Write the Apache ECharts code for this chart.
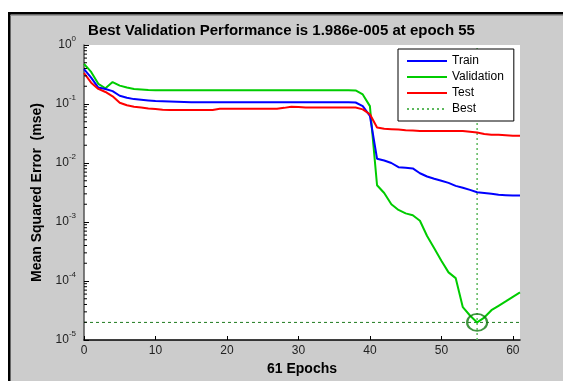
<!DOCTYPE html>
<html>
<head>
<meta charset="utf-8">
<script src="https://cdn.jsdelivr.net/npm/echarts@6/dist/echarts.min.js"></script>
<style>
html,body{margin:0;padding:0;background:#fff;overflow:hidden;}
#chart{width:563px;height:381px;}
</style>
</head>
<body>
<div id="chart"></div>
<script>
var epochs = [0,1,2,3,4,5,6,7,8,9,10,11,12,13,14,15,16,17,18,19,20,21,22,23,24,25,26,27,28,29,30,31,32,33,34,35,36,37,38,39,40,41,42,43,44,45,46,47,48,49,50,51,52,53,54,55,56,57,58,59,60,61];
var trainPerf = [0.39,0.28,0.19,0.18,0.165,0.138,0.128,0.121,0.118,0.115,0.112,0.111,0.110,0.109,0.108,0.107,0.107,0.107,0.107,0.107,0.107,0.107,0.107,0.107,0.107,0.107,0.107,0.107,0.107,0.107,0.107,0.107,0.107,0.107,0.107,0.107,0.107,0.107,0.106,0.092,0.063,0.0118,0.011,0.0100,0.0085,0.0083,0.0081,0.0067,0.0059,0.0054,0.0050,0.0046,0.0041,0.0038,0.0035,0.0032,0.0031,0.0030,0.0029,0.00285,0.0028,0.0028];
var valPerf = [0.48,0.35,0.22,0.185,0.235,0.205,0.19,0.18,0.176,0.172,0.171,0.171,0.171,0.171,0.171,0.171,0.171,0.171,0.171,0.171,0.171,0.171,0.171,0.171,0.171,0.171,0.171,0.171,0.171,0.171,0.171,0.171,0.171,0.171,0.171,0.171,0.171,0.171,0.170,0.145,0.092,0.0042,0.0031,0.0020,0.0016,0.0014,0.0013,0.00105,0.00058,0.00036,0.00022,0.00014,0.000112,0.000036,0.000026,0.00001986,0.000024,0.000032,0.000038,0.000045,0.000054,0.000064];
var testPerf = [0.335,0.23,0.18,0.16,0.135,0.105,0.095,0.09,0.087,0.084,0.082,0.08,0.079,0.079,0.079,0.079,0.079,0.079,0.079,0.083,0.083,0.083,0.083,0.083,0.083,0.083,0.083,0.083,0.086,0.09,0.089,0.087,0.087,0.087,0.087,0.087,0.087,0.087,0.087,0.081,0.067,0.040,0.038,0.0375,0.037,0.036,0.0355,0.035,0.035,0.035,0.035,0.035,0.035,0.035,0.034,0.033,0.031,0.030,0.030,0.0295,0.029,0.029];
var bestEpoch = 55;
var bestPerf = 1.986e-5;
var xTicks = [0,10,20,30,40,50,60];
var yMin = 1e-5, yMax = 1, xMax = 61;
var minorMult = [2,3,4,5,6,7,8,9];
var decades = [1e-5,1e-4,1e-3,1e-2,1e-1];

function zip(xs, ys){ return xs.map(function(x,i){ return [x, ys[i]]; }); }
var minorVals = [];
decades.forEach(function(d){ minorMult.forEach(function(m){ minorVals.push([0, d*m]); }); });

var chart = echarts.init(document.getElementById('chart'));
var font = '"Liberation Sans", Arial, sans-serif';
chart.setOption({
  backgroundColor: '#ffffff',
  animation: false,
  textStyle: {fontFamily: font},
  graphic: [
    {type: 'rect', z: -100, silent: true, shape: {x: 9, y: 13, width: 554, height: 368}, style: {fill: '#cccccc'}},
    {type: 'rect', z: -99, silent: true, shape: {x: 8, y: 12, width: 2.5, height: 369}, style: {fill: '#000'}},
    {type: 'rect', z: -99, silent: true, shape: {x: 8, y: 12, width: 555, height: 2.5}, style: {fill: '#000'}},
    {type: 'rect', z: -99, silent: true, shape: {x: 10.5, y: 15, width: 552.5, height: 1}, style: {fill: '#9a9a9a'}},
    {type: 'rect', z: 1000, silent: true, shape: {x: 545, y: 16, width: 18, height: 365}, style: {fill: '#cccccc'}}
  ],
  title: {
    text: 'Best Validation Performance is 1.986e-005 at epoch 55',
    left: 'center', top: 18,
    textStyle: {fontFamily: font, fontSize: 15, fontWeight: 'bold', color: '#000'}
  },
  grid: {left: 84, top: 45, right: 43, bottom: 36, show: true, backgroundColor: '#fff', borderWidth: 0},
  legend: {
    orient: 'vertical', left: 398, top: 49,
    padding: [6, 10, 6, 8], itemGap: 4, itemWidth: 40, itemHeight: 13,
    backgroundColor: '#fff', borderColor: '#000', borderWidth: 1, borderRadius: 0,
    itemStyle: {opacity: 0, borderWidth: 0},
    textStyle: {fontFamily: font, fontSize: 12, color: '#000'},
    data: ['Train', 'Validation', 'Test', 'Best']
  },
  xAxis: {
    type: 'value', min: 0, max: xMax,
    name: '61 Epochs', nameLocation: 'middle', nameGap: 22,
    nameTextStyle: {fontFamily: font, fontSize: 14, fontWeight: 'bold', color: '#000'},
    axisLine: {show: true, lineStyle: {color: '#000', width: 1.5}},
    axisTick: {show: true, inside: true, length: 4, customValues: xTicks, lineStyle: {color: '#000'}},
    axisLabel: {customValues: xTicks, fontSize: 12, color: '#222', margin: 5, fontFamily: font},
    splitLine: {show: false}
  },
  yAxis: {
    type: 'log', logBase: 10, min: yMin, max: yMax,
    name: 'Mean Squared Error  (mse)', nameLocation: 'middle', nameGap: 29,
    nameTextStyle: {fontFamily: font, fontSize: 14, fontWeight: 'bold', color: '#000'},
    axisLine: {show: true, lineStyle: {color: '#555', width: 1.5}},
    axisTick: {show: true, inside: true, length: 5, lineStyle: {color: '#000'}},
    axisLabel: {
      margin: 8, color: '#222',
      formatter: function(v){ var e = Math.round(Math.log(v)/Math.LN10); return '{b|10}{s|' + e + '}'; },
      rich: {
        b: {fontSize: 12, fontFamily: font, color: '#222'},
        s: {fontSize: 8, fontFamily: font, color: '#222', verticalAlign: 'top', padding: [0,0,12,0]}
      }
    },
    splitLine: {show: false}
  },
  series: [
    {name: 'Train', type: 'line', data: zip(epochs, trainPerf), symbol: 'none', color: '#0000ff', lineStyle: {color: '#0000ff', width: 2}, z: 4},
    {name: 'Validation', type: 'line', data: zip(epochs, valPerf), symbol: 'none', color: '#00cc00', lineStyle: {color: '#00cc00', width: 2}, z: 3},
    {name: 'Test', type: 'line', data: zip(epochs, testPerf), symbol: 'none', color: '#ff0000', lineStyle: {color: '#ff0000', width: 2}, z: 5},
    {name: 'Best', type: 'line', data: [[bestEpoch, yMin], [bestEpoch, yMax]], symbol: 'none', color: '#5cb85c', lineStyle: {color: '#5cb85c', width: 1.5, type: [2, 3]}, z: 2},
    {name: 'bestH', type: 'line', data: [[0, bestPerf], [xMax, bestPerf]], symbol: 'none', lineStyle: {color: '#1e7a1e', width: 1, type: [3, 3]}, z: 2},
    {name: 'bestCircle', type: 'scatter', data: [[bestEpoch, bestPerf]], symbol: 'circle', symbolSize: [20, 17],
      itemStyle: {color: 'rgba(0,0,0,0)', borderColor: '#0f7a0f', borderWidth: 2}, z: 6},
    {name: 'minorTicks', type: 'custom', data: minorVals, silent: true, z: 7,
      renderItem: function(params, api){
        var p = api.coord([api.value(0), api.value(1)]);
        return {type: 'line', shape: {x1: p[0], y1: p[1], x2: p[0] + 3, y2: p[1]}, style: {stroke: '#000', lineWidth: 1}};
      }
    }
  ]
});
</script>
</body>
</html>
